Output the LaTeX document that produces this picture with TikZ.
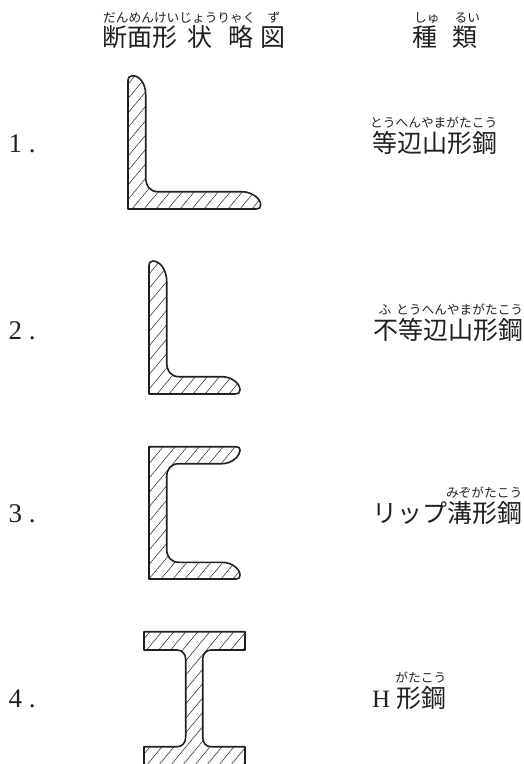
\documentclass[tikz,border=0pt]{standalone}
\usepackage{fontspec}
\newfontfamily\kanjifont{Noto Sans CJK JP}
\setmainfont{Liberation Serif}
\definecolor{inkc}{HTML}{231F20}
\tikzset{
    % hatched steel section, #1 moves the hatching sideways
    section/.style={
        draw=inkc, line width=1.6pt, line join=round,
        path picture={
            \foreach \k in {-260,-248,...,160} {
                \draw[inkc, line width=0.5pt]
                ([xshift=\k pt+#1 pt]path picture bounding box.south west) -- ++(200pt,240pt);
            }
        }
    },
    kanji/.style={font=\kanjifont\fontsize{25}{25}\selectfont, text=inkc, inner sep=0pt, anchor=base west},
    ruby/.style={font=\kanjifont\fontsize{12.7}{13}\selectfont, text=inkc, inner sep=0pt, anchor=base east},
    numlabel/.style={font=\fontsize{27}{27}\selectfont, text=inkc, inner sep=0pt, anchor=base west}
}
\begin{document}
\begin{tikzpicture}[x=1pt, y=-1pt]
    \useasboundingbox (0,0) rectangle (524,764);
    % headings
    \node[kanji] (head1) at (102,46.5) {断面形\hspace{10pt}状\hspace{16pt}略\hspace{7pt}図};
    \node[ruby, anchor=base west] (ruby1) at (103,22) {だんめんけいじょうりゃく\hspace{12pt}ず};
    \node[kanji] (head2) at (412,46.5) {種\hspace{15pt}類};
    \node[ruby, anchor=base west] (ruby2) at (414,22) {しゅ\hspace{15pt}るい};
    % rows
    \foreach \n/\y/\x/\name/\kana in {
        1/152.5/372/等辺山形鋼/とうへんやまがたこう,
        2/339.5/373/不等辺山形鋼/ふ\hspace{5pt}とうへんやまがたこう,
        3/522.5/372/リップ溝形鋼/みぞがたこう,
        4/707.5/372/{\fontspec{Liberation Serif}H}\hspace{6pt}形鋼/がたこう} {
        \node[numlabel] (num\n) at (8.5,\y) {\n\hspace{6.6pt}.};
        \node[kanji] (name\n) at (\x,\y) {\name};
        \node[ruby] (kana\n) at ([yshift=25pt]name\n.base east) {\kana};
    }
    % equal leg angle
    \draw[section=0] (128,209) -- (128,81)
        .. controls (128,77) and (130,75.7) .. (133,75.7)
        .. controls (140,76) and (145.7,84) .. (145.7,95) -- (145.7,177)
        .. controls (145.7,186) and (150,191.7) .. (158,191.7) -- (242,191.7)
        .. controls (251,191.7) and (260.7,198) .. (260.7,205)
        .. controls (260.7,208) and (259,209) .. (256,209) -- cycle;
    % unequal leg angle
    \draw[section=4] (149,394) -- (149,266)
        .. controls (149,262) and (151,261) .. (153,261)
        .. controls (160,261) and (166.7,270) .. (166.7,281) -- (166.7,362)
        .. controls (166.7,371) and (171,376.7) .. (179,376.7) -- (222,376.7)
        .. controls (231,376.7) and (240,383) .. (240,390)
        .. controls (240,393) and (238,394) .. (235,394) -- cycle;
    % lipped channel
    \draw[section=8] (149,579) -- (149,446.7) -- (236,446.7)
        .. controls (239,446.7) and (240,448) .. (240,450)
        .. controls (240,456) and (232,463.7) .. (222,463.7) -- (179,463.7)
        .. controls (171,463.7) and (166.7,469) .. (166.7,477) -- (166.7,549)
        .. controls (166.7,557) and (171,562.3) .. (179,562.3) -- (222,562.3)
        .. controls (232,562.3) and (240,569) .. (240,575)
        .. controls (240,578) and (239,579) .. (236,579) -- cycle;
    % H section
    \draw[section=10] (144,631.7) -- (245,631.7) -- (245,650) -- (211,650)
        .. controls (206,650) and (202.7,654) .. (202.7,659) -- (202.7,737)
        .. controls (202.7,743) and (206,746.7) .. (211,746.7) -- (245,746.7) -- (245,766) -- (144,766) -- (144,746.7) -- (177,746.7)
        .. controls (182,746.7) and (185.7,743) .. (185.7,737) -- (185.7,659)
        .. controls (185.7,654) and (182,650) .. (177,650) -- (144,650) -- cycle;
\end{tikzpicture}
\end{document}
